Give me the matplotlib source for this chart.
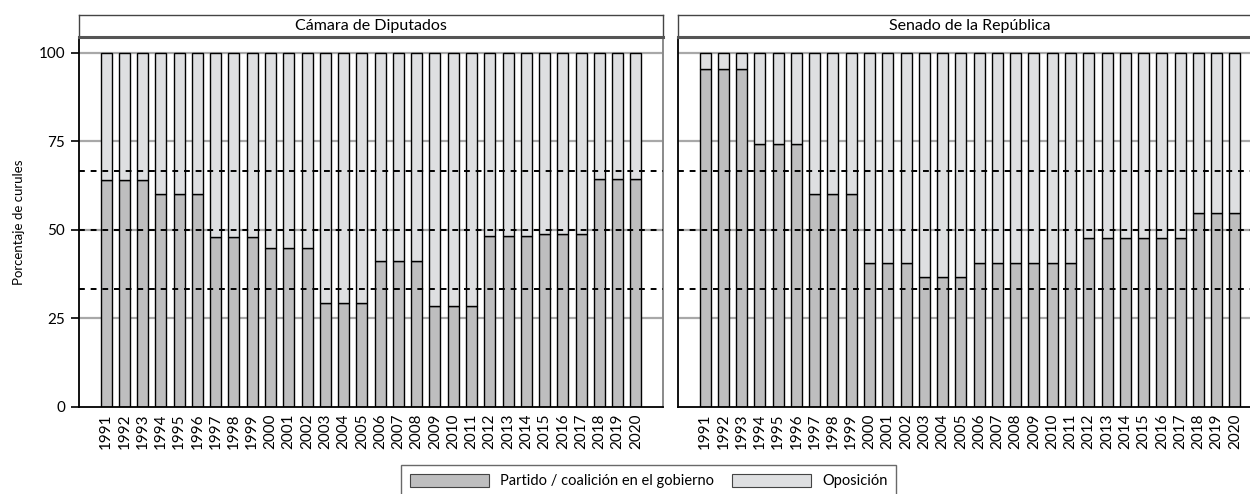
import matplotlib
matplotlib.use("Agg")
import matplotlib.pyplot as plt
from matplotlib.patches import Patch
import numpy as np

plt.rcParams['font.family'] = ['Lato', 'DejaVu Sans']

years = list(range(1991, 2021))
year_labels = [str(y) for y in years]

diputados_gobierno = [64.0, 64.0, 64.0, 60.0, 60.0, 60.0, 47.8, 47.8, 47.8,
                      44.8, 44.8, 44.8, 29.4, 29.4, 29.4, 41.2, 41.2, 41.2,
                      28.4, 28.4, 28.4, 48.2, 48.2, 48.2, 48.8, 48.8, 48.8,
                      64.2, 64.2, 64.2]
senado_gobierno = [95.3, 95.3, 95.3, 74.2, 74.2, 74.2, 60.2, 60.2, 60.2,
                   40.6, 40.6, 40.6, 36.7, 36.7, 36.7, 40.6, 40.6, 40.6,
                   40.6, 40.6, 40.6, 47.7, 47.7, 47.7, 47.7, 47.7, 47.7,
                   54.7, 54.7, 54.7]

panel_titles = ["Cámara de Diputados", "Senado de la República"]
series = [diputados_gobierno, senado_gobierno]
legend_labels = ["Partido / coalición en el gobierno", "Oposición"]
y_ticks = [0, 25, 50, 75, 100]
thresholds = [100 / 3, 50, 200 / 3]

col_gob = "#bebebf"
col_opo = "#dedfe1"
grid_col = "#a8a8a8"

W, H = 1250, 494
fig = plt.figure(figsize=(W / 100, H / 100), dpi=100)

panels_px = [(79, 663), (678, 1262)]
ax_bottom_px = 406.7
ax_top_px = 37
strip_top_px = 15

for i, (x0, x1) in enumerate(panels_px):
    ax = fig.add_axes([x0 / W, (H - ax_bottom_px) / H, (x1 - x0) / W,
                       (ax_bottom_px - ax_top_px) / H])
    gob = np.array(series[i])
    opo = 100 - gob
    x = np.array(years)
    for yt in y_ticks[1:]:
        ax.axhline(yt, color=grid_col, lw=1.6, zorder=0)
    ax.bar(x, gob, width=0.6, color=col_gob, edgecolor="black", linewidth=1.0, zorder=2)
    ax.bar(x, opo, bottom=gob, width=0.6, color=col_opo, edgecolor="black", linewidth=1.0, zorder=2)
    for th in thresholds:
        ax.axhline(th, color="black", lw=1.4, ls=(0, (3, 3)), zorder=3)
    ax.set_xlim(1989.52, 2021.48)
    ax.set_ylim(0, 104.4)
    ax.set_xticks(years)
    ax.set_xticklabels(year_labels, rotation=90, fontsize=11)
    ax.tick_params(axis='x', length=0, pad=5)
    ax.set_yticks(y_ticks)
    if i == 0:
        ax.set_yticklabels([str(v) for v in y_ticks], fontsize=11)
        ax.tick_params(axis='y', length=6, width=1.2, color="black", pad=4)
        ax.set_ylabel("Porcentaje de curules", fontsize=9.5, labelpad=10)
    else:
        ax.tick_params(axis='y', length=0, labelleft=False)
    ax.spines['top'].set_visible(False)
    ax.spines['right'].set_color("#8a8a8a")
    ax.spines['right'].set_linewidth(1.4)
    ax.spines['left'].set_color("black")
    ax.spines['left'].set_linewidth(1.3)
    ax.spines['bottom'].set_color("black")
    ax.spines['bottom'].set_linewidth(1.3)

    sax = fig.add_axes([x0 / W, (H - ax_top_px) / H, (x1 - x0) / W,
                        (ax_top_px - strip_top_px) / H])
    sax.set_xticks([])
    sax.set_yticks([])
    sax.set_facecolor("white")
    for s in ['top', 'left', 'right']:
        sax.spines[s].set_color("#444444")
        sax.spines[s].set_linewidth(1.0)
    sax.spines['bottom'].set_color("#555555")
    sax.spines['bottom'].set_linewidth(2.2)
    sax.text(0.5, 0.5, panel_titles[i], ha="center", va="center", fontsize=11.5,
             transform=sax.transAxes)

handles = [Patch(facecolor=col_gob, edgecolor="#444444", linewidth=0.8),
           Patch(facecolor=col_opo, edgecolor="#444444", linewidth=0.8)]
leg = fig.legend(handles, legend_labels, loc="upper center",
                 bbox_to_anchor=(0.519, (H - 465) / H), ncol=2, fontsize=10.5,
                 frameon=True, fancybox=False, edgecolor="#444444",
                 handlelength=5.4, handleheight=1.0, columnspacing=1.2,
                 handletextpad=0.8, borderpad=0.6, borderaxespad=0)
leg.get_frame().set_linewidth(1.0)

fig.savefig("out.png", dpi=100)
